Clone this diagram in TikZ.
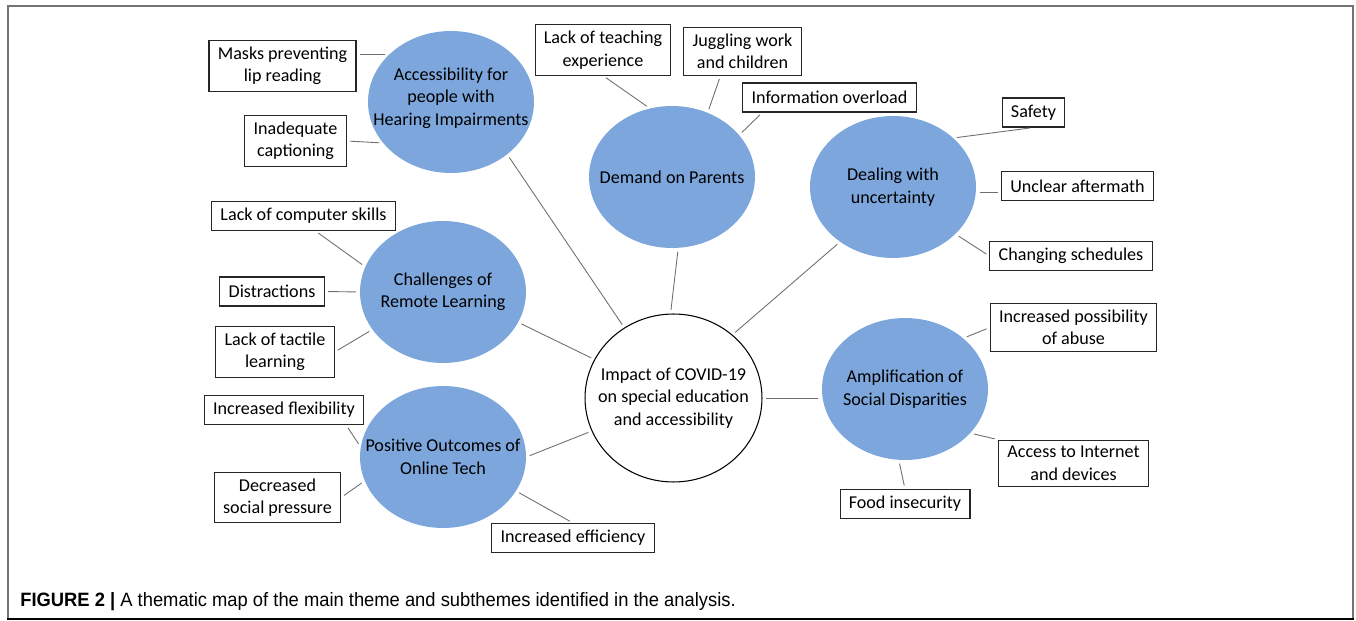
\documentclass[tikz,border=0pt]{standalone}
\usepackage{fontspec}
\setmainfont{Carlito}
\newfontfamily\capfont{Liberation Sans}
\usetikzlibrary{shapes.geometric}
\definecolor{themeblue}{RGB}{125,167,220}
\definecolor{linkgray}{RGB}{110,110,110}
\tikzset{theme/.style={ellipse, fill=themeblue, minimum width=3.32cm, minimum height=2.84cm, inner sep=0pt},
%boxes for the codes around each theme
code/.style={draw=black!85, line width=0.6pt, fill=white, align=center, inner xsep=5pt, inner ysep=3.5pt, minimum height=0.58cm},
link/.style={draw=linkgray, line width=0.5pt, shorten <=2pt, shorten >=2pt}}

\begin{document}
\begin{tikzpicture}[x=0.02cm, y=-0.02cm, font=\fontsize{10.3}{12.8}\selectfont]
\useasboundingbox (0,0) rectangle (1356,621);

\draw[black!55, line width=0.6pt] (8,6) rectangle (1353,619);
\draw[black, line width=1.2pt] (7,619) -- (1354,619);

% main theme
\node[ellipse, draw, fill=white, line width=0.6pt, minimum width=3.54cm, minimum height=3.36cm, inner sep=0pt] (center) at (673.5,398) {};
\node[align=center] (center-t) at (center) {Impact of COVID-19\\on special education\\and accessibility};

% subthemes
\node[theme] (access) at (451,102) {};
\node[align=center] (access-t) at (451,98) {Accessibility for\\people with\\Hearing Impairments};
\node[theme] (parents) at (672,177) {};
\node (parents-t) at (parents) {Demand on Parents};
\node[theme] (dealing) at (893,187) {};
\node[align=center] (dealing-t) at (dealing) {Dealing with\\uncertainty};
\node[theme] (challenge) at (443,292) {};
\node[align=center] (challenge-t) at (challenge) {Challenges of\\Remote Learning};
\node[theme] (positive) at (443,457) {};
\node[align=center] (positive-t) at (positive) {Positive Outcomes of\\Online Tech};
\node[theme] (amplify) at (905,389) {};
\node[align=center] (amplify-t) at (amplify) {Amplification of\\Social Disparities};

% codes
\node[code] (masks) at (282.5,66) {Masks preventing\\lip reading};
\node[code] (inadequate) at (295.5,141) {Inadequate\\captioning};
\node[code] (teaching) at (603,50) {Lack of teaching\\experience};
\node[code] (juggling) at (742.5,51.5) {Juggling work\\and children};
\node[code] (info) at (829.5,97.5) {Information overload};
\node[code] (safety) at (1033.5,112.5) {Safety};
\node[code] (unclear) at (1077.5,186) {Unclear aftermath};
\node[code] (changing) at (1071,256) {Changing schedules};
\node[code] (abuse) at (1073.5,327.5) {Increased possibility\\of abuse};
\node[code] (internet) at (1073.5,463.5) {Access to Internet\\and devices};
\node[code] (food) at (905,504) {Food insecurity};
\node[code] (skills) at (303.5,216) {Lack of computer skills};
\node[code] (distract) at (272,291.5) {Distractions};
\node[code] (tactile) at (275,352) {Lack of tactile\\learning};
\node[code] (flex) at (284,410) {Increased flexibility};
\node[code] (pressure) at (277.5,497.5) {Decreased\\social pressure};
\node[code] (efficiency) at (573,538) {Increased efficiency};

% links
\draw[link] (access.143 -| masks.east) -- (access.143);
\draw[link] (inadequate.east) -- (access.211);
\draw[link] (access.317) -- (center.125);
\draw[link] (teaching.south) -- (parents.108);
\draw[link] ([xshift=-0.44cm]juggling.south) -- (parents.61);
\draw[link] ([xshift=0.4cm]info.south west) -- (parents.32);
\draw[link] (parents.275) -- (center.92);
\draw[link] (dealing.39) -- (safety.south);
\draw[link] (dealing.356) -- (dealing.356 -| unclear.west);
\draw[link] (dealing.323) -- (changing.west);
\draw[link] (dealing.226) -- (center.47);
\draw[link] (amplify.41) -- (abuse.west);
\draw[link] (amplify.326) -- (internet.north west);
\draw[link] (amplify.265) -- (food.north);
\draw[link] (center.east) -- (center.east -| amplify.west);
\draw[link] ([xshift=0.24cm]skills.south) -- (challenge.162);
\draw[link] (distract.east) -- (challenge.west);
\draw[link] (tactile.east) -- (challenge.208);
\draw[link] (challenge.338) -- (center.154);
\draw[link] ([xshift=-0.36cm]flex.south east) -- (positive.173);
\draw[link] (pressure.east) -- (positive.197);
\draw[link] (positive.335) -- (efficiency.north);
\draw[link] (positive.east) -- (center.202);

\node[anchor=base west, inner sep=0pt, font=\capfont\fontsize{11}{13}\selectfont] (caption) at (20,606) {\scalebox{0.95}[1]{\textbf{FIGURE 2 |} A thematic map of the main theme and subthemes identified in the analysis.}};

\end{tikzpicture}
\end{document}
